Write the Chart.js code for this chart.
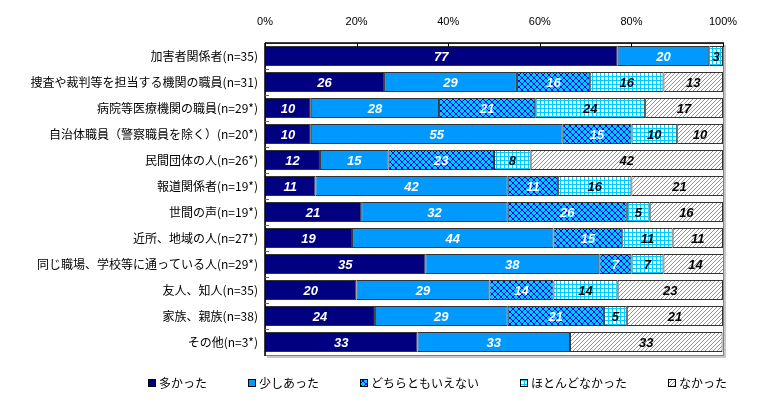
<!DOCTYPE html>
<html>
<head>
<meta charset="utf-8">
<script src="https://cdn.jsdelivr.net/npm/chart.js@4.4.1/dist/chart.umd.min.js"></script>
<style>
  html, body { margin: 0; padding: 0; background: #fff; }
  #wrap { width: 762px; height: 416px; }
</style>
</head>
<body>
<div id="wrap"><canvas id="chart" width="762" height="416"></canvas></div>
<script>
/* ── Data ─────────────────────────────────────────────────────────── */
const categories = [
  '加害者関係者(n=35)',
  '捜査や裁判等を担当する機関の職員(n=31)',
  '病院等医療機関の職員(n=29*)',
  '自治体職員（警察職員を除く）(n=20*)',
  '民間団体の人(n=26*)',
  '報道関係者(n=19*)',
  '世間の声(n=19*)',
  '近所、地域の人(n=27*)',
  '同じ職場、学校等に通っている人(n=29*)',
  '友人、知人(n=35)',
  '家族、親族(n=38)',
  'その他(n=3*)'
];
const seriesNames = ['多かった', '少しあった', 'どちらともいえない', 'ほとんどなかった', 'なかった'];
const ooi      = [77, 26, 10, 10, 12, 11, 21, 19, 35, 20, 24, 33.3];
const sukoshi  = [20, 29, 28, 55, 15, 42, 32, 44, 38, 29, 29, 33.3];
const dochira  = [ 0, 16, 21, 15, 23, 11, 26, 15,  7, 14, 21,  0];
const hotondo  = [ 3, 16, 24, 10,  8, 16,  5, 11,  7, 14,  5,  0];
const nakatta  = [ 0, 13, 17, 10, 42, 21, 16, 11, 14, 23, 21, 33.3];
const xTicks   = [0, 20, 40, 60, 80, 100];

// ── Patterns (drawn pixel by pixel so they stay crisp) ───────────────
function makePattern(size, bg, fg, isOn) {
  const c = document.createElement('canvas');
  c.width = size; c.height = size;
  const g = c.getContext('2d');
  g.fillStyle = bg;
  g.fillRect(0, 0, size, size);
  g.fillStyle = fg;
  for (let y = 0; y < size; y++)
    for (let x = 0; x < size; x++)
      if (isOn(x, y, size)) g.fillRect(x, y, 1, 1);
  return document.getElementById('chart').getContext('2d').createPattern(c, 'repeat');
}
const crossPat = makePattern(6, '#00ccff', '#0000ff', function(x, y, s) { return x === y || x === s - 1 - y; });
const gridPat  = makePattern(4, '#ffffff', '#00ccff', function(x, y) { return x === 0 || y === 0; });
const diagPat  = makePattern(4, '#ffffff', '#00ccff', function(x, y, s) { return x === s - 1 - y; });

const fills      = ['#000080', '#0099ff', crossPat, gridPat, diagPat];
const labelColor = ['#ffffff', '#ffffff', '#ffffff', '#000000', '#000000'];
const seriesData = [ooi, sukoshi, dochira, hotondo, nakatta];

// ── Plugins ──────────────────────────────────────────────────────────
const framePlugin = {
  id: 'frame',
  beforeDatasetsDraw(chart) {
    const a = chart.chartArea, ctx = chart.ctx;
    ctx.save();
    // shadow + gray frame
    ctx.strokeStyle = '#c8c8c8'; ctx.lineWidth = 2;
    ctx.beginPath();
    ctx.moveTo(a.right + 2, a.top + 2); ctx.lineTo(a.right + 2, a.bottom + 2);
    ctx.lineTo(a.left + 2, a.bottom + 2);
    ctx.stroke();
    ctx.strokeStyle = '#808080'; ctx.lineWidth = 1;
    ctx.strokeRect(a.left + 0.5, a.top + 0.5, a.right - a.left, a.bottom - a.top);
    ctx.restore();
  },
  afterDatasetsDraw(chart) {
    const a = chart.chartArea, ctx = chart.ctx;
    const xs = chart.scales.x, ys = chart.scales.y;
    ctx.save();
    ctx.strokeStyle = '#000'; ctx.lineWidth = 1.5;
    ctx.beginPath();
    ctx.moveTo(a.left, a.top); ctx.lineTo(a.right + 1, a.top);
    ctx.moveTo(a.left, a.top); ctx.lineTo(a.left, a.bottom + 1);
    ctx.stroke();
    ctx.lineWidth = 1;
    ctx.beginPath();
    xTicks.forEach(function(v) {
      const px = Math.round(xs.getPixelForValue(v)) + 0.5;
      ctx.moveTo(px, a.top); ctx.lineTo(px, a.top + 4);
    });
    ctx.stroke();
    ctx.strokeStyle = '#666';
    ctx.beginPath();
    for (let i = 1; i < categories.length; i++) {
      const py = Math.round((ys.getPixelForValue(i - 1) + ys.getPixelForValue(i)) / 2) + 0.5;
      ctx.moveTo(a.left, py); ctx.lineTo(a.left + 4, py);
    }
    ctx.stroke();
    ctx.restore();
  }
};

const valuePlugin = {
  id: 'values',
  afterDatasetsDraw(chart) {
    const ctx = chart.ctx;
    ctx.save();
    ctx.font = 'italic bold 13px "Liberation Sans", Arial, sans-serif';
    ctx.textAlign = 'center';
    ctx.textBaseline = 'middle';
    chart.data.datasets.forEach(function(ds, di) {
      const meta = chart.getDatasetMeta(di);
      meta.data.forEach(function(bar, i) {
        const v = ds.data[i];
        if (!v) return;
        const p = bar.getProps(['x', 'y', 'base'], true);
        ctx.fillStyle = labelColor[di];
        ctx.fillText(String(Math.round(v)), (p.x + p.base) / 2, p.y + 1);
      });
    });
    ctx.restore();
  }
};

const legendPlugin = {
  id: 'myLegend',
  afterDraw(chart) {
    const ctx = chart.ctx;
    const gap = 41, box = 8, cy = 383;
    ctx.save();
    ctx.font = '12px "Noto Sans CJK JP", sans-serif';
    ctx.textBaseline = 'middle';
    let x = 148;
    chart.data.datasets.forEach(function(ds) {
      ctx.fillStyle = ds.backgroundColor;
      ctx.fillRect(x, cy - box / 2, box, box);
      ctx.strokeStyle = '#000'; ctx.lineWidth = 1;
      ctx.strokeRect(x + 0.5, cy - box / 2 + 0.5, box - 1, box - 1);
      ctx.fillStyle = '#000';
      ctx.fillText(ds.label, x + box + 3, cy);
      x += box + 3 + ctx.measureText(ds.label).width + gap;
    });
    ctx.restore();
  }
};

// ── Chart ────────────────────────────────────────────────────────────
new Chart(document.getElementById('chart').getContext('2d'), {
  type: 'bar',
  data: {
    labels: categories,
    datasets: seriesNames.map(function(name, i) {
      return {
        label: name,
        data: seriesData[i],
        backgroundColor: fills[i],
        borderColor: '#333333',
        borderWidth: 1,
        borderSkipped: false,
        barPercentage: 0.76,
        categoryPercentage: 1.0
      };
    })
  },
  options: {
    indexAxis: 'y',
    responsive: false,
    animation: false,
    layout: { padding: { top: 10, right: 39, bottom: 61, left: 0 } },
    plugins: {
      legend: { display: false },
      tooltip: { enabled: false }
    },
    scales: {
      x: {
        position: 'top',
        stacked: true,
        min: 0, max: 100,
        afterBuildTicks: function(s) { s.ticks = xTicks.map(function(v) { return { value: v }; }); },
        afterFit: function(s) { s.height = 33; },
        ticks: {
          padding: 14,
          color: '#000',
          font: { family: '"Liberation Sans", Arial, sans-serif', size: 11 },
          callback: function(v) { return v + '%'; }
        },
        grid: { display: false, drawTicks: false },
        border: { display: false }
      },
      y: {
        stacked: true,
        afterFit: function(s) { s.width = 265; },
        ticks: {
          padding: 7,
          color: '#000',
          font: { family: '"Noto Sans CJK JP", sans-serif', size: 12 }
        },
        grid: { display: false, drawTicks: false },
        border: { display: false }
      }
    }
  },
  plugins: [framePlugin, valuePlugin, legendPlugin]
});
</script>
</body>
</html>
